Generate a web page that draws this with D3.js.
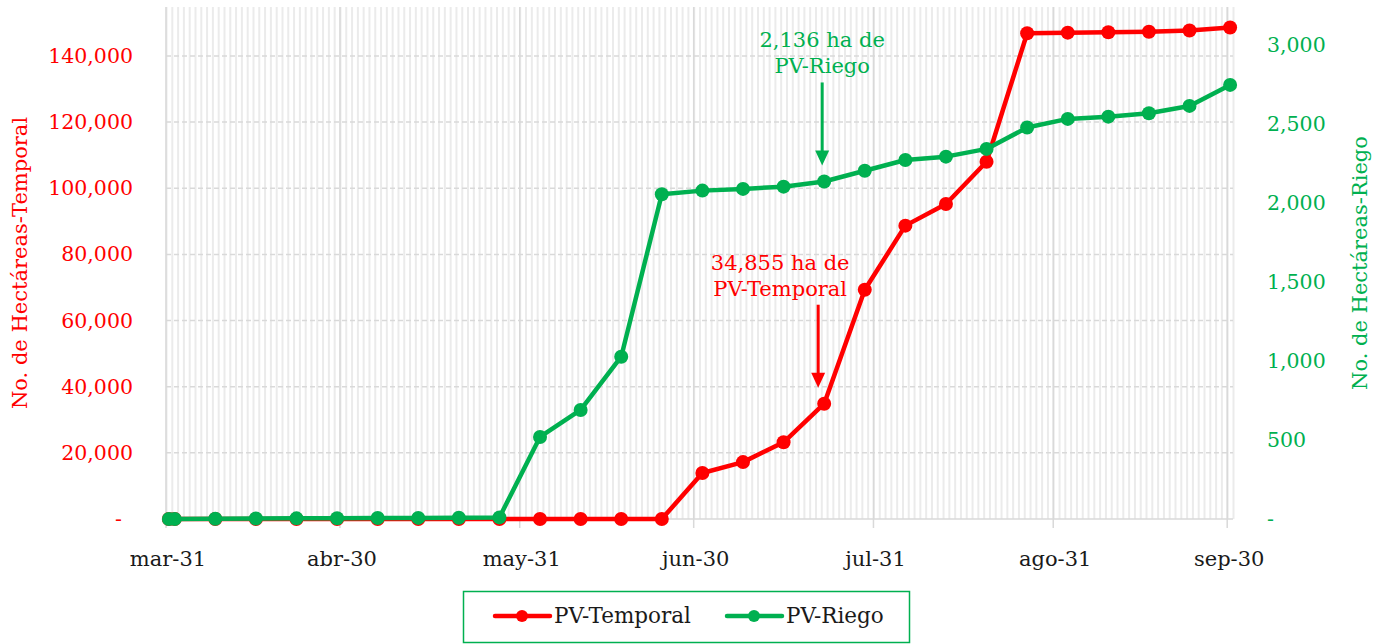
<!DOCTYPE html>
<html>
<head>
<meta charset="utf-8">
<script src="https://cdn.jsdelivr.net/npm/d3@7"></script>
<style>
  html, body { margin: 0; padding: 0; background: #fff; }
  svg { display: block; font-family: "DejaVu Serif", serif; }
</style>
</head>
<body>
<svg id="chart" width="1381" height="644"></svg>
<script>
// Weekly report dates (2020) and accumulated hectares
const dates = ['2020-03-31', '2020-04-01', '2020-04-08', '2020-04-15', '2020-04-22', '2020-04-29',
  '2020-05-06', '2020-05-13', '2020-05-20', '2020-05-27', '2020-06-03', '2020-06-10', '2020-06-17',
  '2020-06-24', '2020-07-01', '2020-07-08', '2020-07-15', '2020-07-22', '2020-07-29', '2020-08-05',
  '2020-08-12', '2020-08-19', '2020-08-26', '2020-09-02', '2020-09-09', '2020-09-16', '2020-09-23',
  '2020-09-30'];
const temporal = [0, 0, 0, 0, 0, 0, 0, 0, 0, 0, 0, 0, 0, 0,
  13900, 17200, 23200, 34855, 69300, 88700, 95250, 108000, 146850, 147050, 147150, 147300, 147700, 148600];
const riego = [0, 0, 2, 3, 4, 5, 6, 7, 8, 10, 519, 690, 1027, 2055,
  2078, 2089, 2103, 2136, 2204, 2272, 2293, 2342, 2477, 2532, 2546, 2568, 2614, 2747];

const xTickDates = ['2020-03-31', '2020-04-30', '2020-05-31', '2020-06-30', '2020-07-31', '2020-08-31', '2020-09-30'];
const xTickLabels = ['mar-31', 'abr-30', 'may-31', 'jun-30', 'jul-31', 'ago-31', 'sep-30'];
const leftTicks = [0, 20000, 40000, 60000, 80000, 100000, 120000, 140000];
const rightTicks = [0, 500, 1000, 1500, 2000, 2500, 3000];

const seriesNames = ['PV-Temporal', 'PV-Riego'];
const RED = '#ff0000';
const GREEN = '#00b050';

const parse = d3.timeParse('%Y-%m-%d');
const fmt = d3.format(',');

const plot = { left: 166, right: 1233, top: 7, bottom: 519 };

const x = d3.scaleTime()
  .domain([parse('2020-03-31'), parse('2020-10-01')])
  .range([plot.left, plot.right]);
const yL = d3.scaleLinear().domain([0, 154800]).range([plot.bottom, plot.top]);
const yR = d3.scaleLinear().domain([0, 3240]).range([plot.bottom, plot.top]);

// points sit in the middle of their day slot
const px = d => x(d3.timeHour.offset(parse(d), 12));

const svg = d3.select('#chart');

// Daily minor gridlines
const days = d3.timeDay.range(parse('2020-03-31'), parse('2020-10-02'));
svg.append('g')
  .selectAll('line')
  .data(days)
  .join('line')
  .attr('x1', d => x(d) + 0.5).attr('x2', d => x(d) + 0.5)
  .attr('y1', plot.top).attr('y2', plot.bottom)
  .attr('stroke', '#ebebeb')
  .attr('stroke-width', 2);

// Horizontal dashed gridlines (left axis)
svg.append('g')
  .selectAll('line')
  .data(leftTicks.slice(1))
  .join('line')
  .attr('x1', plot.left).attr('x2', plot.right)
  .attr('y1', d => yL(d)).attr('y2', d => yL(d))
  .attr('stroke', '#d9d9d9')
  .attr('stroke-width', 1.5)
  .attr('stroke-dasharray', '5,3');

// Major monthly gridlines + tick marks
svg.append('g')
  .selectAll('line')
  .data(xTickDates)
  .join('line')
  .attr('x1', d => x(parse(d))).attr('x2', d => x(parse(d)))
  .attr('y1', plot.top).attr('y2', plot.bottom + 9)
  .attr('stroke', '#d9d9d9')
  .attr('stroke-width', 1.5);

// Baseline
svg.append('line')
  .attr('x1', plot.left).attr('x2', plot.right)
  .attr('y1', plot.bottom).attr('y2', plot.bottom)
  .attr('stroke', '#d9d9d9')
  .attr('stroke-width', 1.5);

// X tick labels
svg.append('g')
  .selectAll('text')
  .data(xTickDates)
  .join('text')
  .attr('x', d => x(parse(d)) + 2)
  .attr('y', 566)
  .attr('text-anchor', 'middle')
  .attr('font-size', 21)
  .attr('fill', '#1a1a1a')
  .text((d, i) => xTickLabels[i]);

// Left ticks
svg.append('g')
  .selectAll('text')
  .data(leftTicks)
  .join('text')
  .attr('x', d => d === 0 ? 122 : 133)
  .attr('y', d => yL(d) + 7)
  .attr('text-anchor', 'end')
  .attr('font-size', 20.5)
  .attr('fill', RED)
  .text(d => d === 0 ? '-' : fmt(d));

// Right ticks
svg.append('g')
  .selectAll('text')
  .data(rightTicks)
  .join('text')
  .attr('x', 1267)
  .attr('y', d => yR(d) + 7)
  .attr('text-anchor', 'start')
  .attr('font-size', 20.5)
  .attr('fill', GREEN)
  .text(d => d === 0 ? '-' : fmt(d));

// Axis titles
svg.append('text')
  .attr('transform', `translate(27,${(plot.top + plot.bottom) / 2}) rotate(-90)`)
  .attr('text-anchor', 'middle')
  .attr('font-size', 21)
  .attr('fill', RED)
  .text('No. de Hectáreas-Temporal');
svg.append('text')
  .attr('transform', `translate(1367,${(plot.top + plot.bottom) / 2}) rotate(-90)`)
  .attr('text-anchor', 'middle')
  .attr('font-size', 21)
  .attr('fill', GREEN)
  .text('No. de Hectáreas-Riego');

// Series
function drawSeries(values, yScale, color) {
  const pts = dates.map((d, i) => ({ d, v: values[i] }));
  const line = d3.line().x(p => px(p.d)).y(p => yScale(p.v));
  const g = svg.append('g');
  g.append('path')
    .datum(pts)
    .attr('d', line)
    .attr('fill', 'none')
    .attr('stroke', color)
    .attr('stroke-width', 4.5)
    .attr('stroke-linejoin', 'round');
  g.selectAll('circle')
    .data(pts)
    .join('circle')
    .attr('cx', p => px(p.d))
    .attr('cy', p => yScale(p.v))
    .attr('r', 7)
    .attr('fill', color);
}
drawSeries(temporal, yL, RED);
drawSeries(riego, yR, GREEN);

// Annotations
function annotate(idx, values, yScale, color, lines, dx, textDx) {
  const cx = px(dates[idx]) + dx;
  const tipY = yScale(values[idx]) - 16;
  const baseY = tipY - 83;
  const g = svg.append('g');
  g.append('line')
    .attr('x1', cx).attr('x2', cx)
    .attr('y1', baseY).attr('y2', tipY - 12)
    .attr('stroke', color)
    .attr('stroke-width', 3);
  g.append('path')
    .attr('d', `M${cx - 7},${tipY - 15} L${cx + 7},${tipY - 15} L${cx},${tipY} Z`)
    .attr('fill', color);
  g.append('text')
    .attr('x', cx + textDx)
    .attr('text-anchor', 'middle')
    .attr('font-size', 21)
    .attr('fill', color)
    .selectAll('tspan')
    .data(lines)
    .join('tspan')
    .attr('x', cx + textDx)
    .attr('y', (l, i) => baseY - 35 + i * 26)
    .text(l => l);
}
const tIdx = dates.indexOf('2020-07-22');
annotate(tIdx, riego, yR, GREEN, [fmt(riego[tIdx]) + ' ha de', 'PV-Riego'], -2, 0);
annotate(tIdx, temporal, yL, RED, [fmt(temporal[tIdx]) + ' ha de', 'PV-Temporal'], -6, -38);

// Legend
const legend = svg.append('g');
legend.append('rect')
  .attr('x', 463.5).attr('y', 591.5)
  .attr('width', 446).attr('height', 51)
  .attr('fill', '#fff')
  .attr('stroke', GREEN)
  .attr('stroke-width', 1.5);
const legendX = [495, 727];
[RED, GREEN].forEach((c, i) => {
  const lx = legendX[i];
  legend.append('line')
    .attr('x1', lx).attr('x2', lx + 55)
    .attr('y1', 616).attr('y2', 616)
    .attr('stroke', c).attr('stroke-width', 4.5).attr('stroke-linecap', 'round');
  legend.append('circle')
    .attr('cx', lx + 27).attr('cy', 616).attr('r', 6).attr('fill', c);
  legend.append('text')
    .attr('x', lx + 59).attr('y', 623)
    .attr('font-size', 21.5)
    .attr('fill', '#1a1a1a')
    .text(seriesNames[i]);
});
</script>
</body>
</html>
